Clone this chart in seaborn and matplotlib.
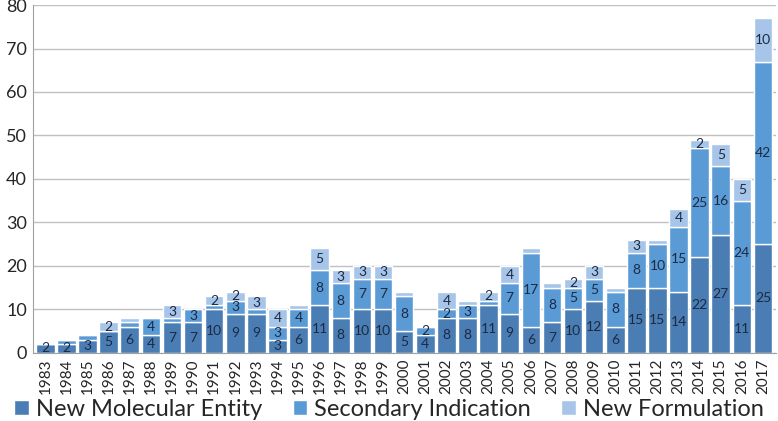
import numpy as np
import pandas as pd
import matplotlib.pyplot as plt
import seaborn as sns

# data
years = [str(y) for y in range(1983, 2018)]
nme = [2, 2, 3, 5, 6, 4, 7, 7, 10, 9, 9, 3, 6, 11, 8, 10, 10, 5, 4, 8,
       8, 11, 9, 6, 7, 10, 12, 6, 15, 15, 14, 22, 27, 11, 25]
sec = [0, 1, 1, 0, 1, 4, 1, 3, 1, 3, 1, 3, 4, 8, 8, 7, 7, 8, 2, 2,
       3, 1, 7, 17, 8, 5, 5, 8, 8, 10, 15, 25, 16, 24, 42]
newf = [0, 0, 0, 2, 1, 0, 3, 0, 2, 2, 3, 4, 1, 5, 3, 3, 3, 1, 0, 4,
        1, 2, 4, 1, 1, 2, 3, 1, 3, 1, 4, 2, 5, 5, 10]

df = pd.DataFrame({"Year": years, "NME": nme, "SI": sec, "NF": newf})
df["b2"] = df["NME"] + df["SI"]

series = [
    ("NME", "New Molecular Entity", "#4a7db3", None),
    ("SI", "Secondary Indication", "#5b9bd5", "NME"),
    ("NF", "New Formulation", "#a7c5e8", "b2"),
]

sns.set_style("white")
plt.rcParams["font.family"] = ["Lato", "DejaVu Sans"]

fig = plt.figure(figsize=(7.78, 4.21), dpi=100)
ax = fig.add_axes([0.042, 0.162, 0.955, 0.826])

for col, label, color, base in series:
    bottom = df[base] if base else 0
    sns.barplot(data=df, x="Year", y=col, color=color, label=label,
                bottom=bottom, width=0.88, ax=ax, saturation=1)

for cont, (col, _, _, _) in zip(ax.containers, series):
    labs = [str(v) if v >= 2 else "" for v in df[col]]
    ax.bar_label(cont, labels=labs, label_type="center", fontsize=10,
                 color="#1c2a44")

ax.set_ylim(0, 80)
ax.set_xlim(-0.6, len(years) - 0.4)
ax.set_yticks(range(0, 81, 10))
ax.yaxis.grid(True, color="#c0c0c0", linewidth=1)
ax.set_axisbelow(True)
ax.set_xlabel("")
ax.set_ylabel("")
ax.tick_params(axis="y", labelsize=13, length=0, pad=4)
ax.tick_params(axis="x", labelsize=11, rotation=90, length=0, pad=4)
ax.set_xticks(np.arange(len(years)) - 0.5, minor=True)
ax.tick_params(axis="x", which="minor", length=5, color="#a0a0a0")
for s in ["top", "right"]:
    ax.spines[s].set_visible(False)
for s in ["left", "bottom"]:
    ax.spines[s].set_color("#a0a0a0")

handles, labels = ax.get_legend_handles_labels()
if ax.legend_:
    ax.legend_.remove()
fig.legend(handles, labels, loc="center", bbox_to_anchor=(0.5, 0.028),
           ncol=3, frameon=False, fontsize=17, handlelength=0.6,
           handleheight=0.6, handletextpad=0.3, columnspacing=1.3)

fig.savefig("out.png", dpi=100)
